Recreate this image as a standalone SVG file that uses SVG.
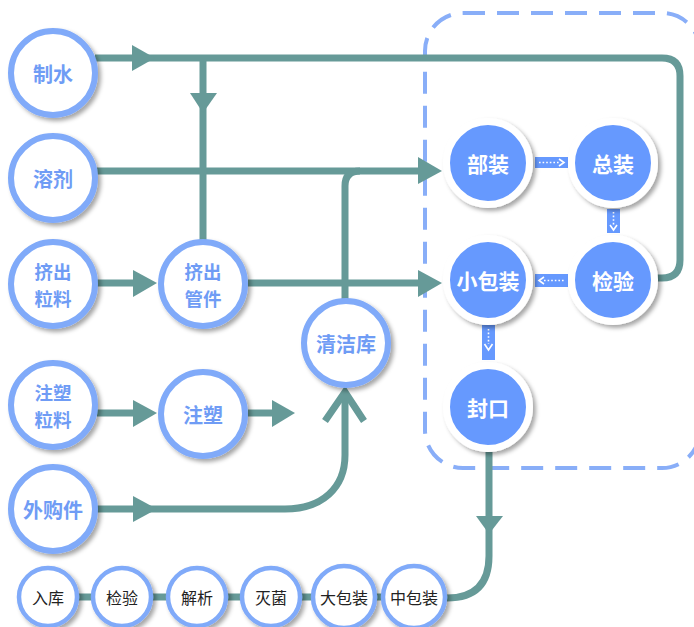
<svg xmlns="http://www.w3.org/2000/svg" width="694" height="627" viewBox="0 0 694 627">
<defs>
<filter id="sh" x="-30%" y="-30%" width="160%" height="160%">
<feDropShadow dx="3" dy="3" stdDeviation="2" flood-color="#000" flood-opacity="0.35"/>
</filter>
<style>
.n{fill:#fff;stroke:#80aaf9;stroke-width:6;filter:url(#sh)}
.ns{fill:#fff;stroke:#80aaf9;stroke-width:4.5;filter:url(#sh)}
.b{fill:#6699fe;stroke:#fff;stroke-width:7;filter:url(#sh)}
.t{font-family:"Noto Sans CJK SC",sans-serif;font-weight:bold;font-size:20px;fill:#6f9cf5;text-anchor:middle;dominant-baseline:central}
.t2{font-size:18.5px}
.tw{font-family:"Noto Sans CJK SC",sans-serif;font-weight:bold;font-size:21px;fill:#fff;text-anchor:middle;dominant-baseline:central}
.ts{font-family:"Noto Sans CJK SC",sans-serif;font-size:16px;fill:#222;text-anchor:middle;dominant-baseline:central}
.l{fill:none;stroke:#669a98;stroke-width:7}
.a{fill:#669a98}
.br{fill:#6699fe}
.d{fill:none;stroke:#fff;stroke-width:1.6;stroke-dasharray:1.6 2}
.c{fill:none;stroke:#fff;stroke-width:1.6}
</style>
</defs>
<rect x="425" y="13" width="275" height="455" rx="38" fill="none" stroke="#89aef8" stroke-width="4" stroke-dasharray="22 12"/>
<g id="connectors">
<path class="l" d="M95 58 H662 Q680 58 680 76 V260 Q680 278 662 278 H655"/>
<path class="l" d="M203 58 V240"/>
<path class="l" d="M97 171 H425"/>
<path class="l" d="M345 300 V186 Q345 171 360 171"/>
<path class="l" d="M248 283 H425"/>
<path class="l" d="M97 283 H140"/>
<path class="l" d="M97 413 H140"/>
<path class="l" d="M248 413 H280"/>
<path class="l" d="M97 509 H285 C322 509 345 488 345 455 V393"/>
<path class="l" stroke-linejoin="miter" d="M325 421 L345 392 L364 421"/>
<path class="l" d="M489 452 V556 Q489 598 447 598"/>
<path class="l" d="M48 597 H414"/>
<polygon class="a" points="132,45 155,58 132,71"/>
<polygon class="a" points="190,93 217,93 203,113"/>
<polygon class="a" points="418,157 442,171 418,184"/>
<polygon class="a" points="418,270 442,283 418,297"/>
<polygon class="a" points="133,270 157,283 133,297"/>
<polygon class="a" points="133,400 157,413 133,427"/>
<polygon class="a" points="272,400 295,413 272,427"/>
<polygon class="a" points="133,496 157,509 133,522"/>
<polygon class="a" points="476,516 503,516 489,534"/>
<rect class="br" x="535" y="157" width="33" height="11"/>
<path class="d" d="M539 162.5 H559"/>
<path class="c" d="M559 159 L564 162.5 L559 166"/>
<rect class="br" x="607" y="209" width="13" height="24"/>
<path class="d" d="M613.5 212 V226"/>
<path class="c" d="M610 225 L613.5 230 L617 225"/>
<rect class="br" x="535" y="274" width="33" height="13"/>
<path class="d" d="M544 280.5 H564"/>
<path class="c" d="M544 277 L539 280.5 L544 284"/>
<rect class="br" x="482" y="325" width="13" height="35"/>
<path class="d" d="M488.5 329 V344"/>
<path class="c" d="M484.5 344 L488.5 350 L492.5 344"/>
</g>
<g id="n-zhishui"><circle class="n" cx="53" cy="73" r="42"/><text class="t" x="53" y="73">制水</text></g>
<g id="n-rongji"><circle class="n" cx="53" cy="178" r="42"/><text class="t" x="53" y="178">溶剂</text></g>
<g id="n-jichuliliao"><circle class="n" cx="53" cy="284" r="42"/><text class="t t2" x="53" y="270.5">挤出</text><text class="t t2" x="53" y="297.5">粒料</text></g>
<g id="n-jichuguanjian"><circle class="n" cx="203" cy="284" r="42"/><text class="t t2" x="203" y="270.5">挤出</text><text class="t t2" x="203" y="297.5">管件</text></g>
<g id="n-qingjieku"><circle class="n" cx="346" cy="343" r="42"/><text class="t" x="346" y="343">清洁库</text></g>
<g id="n-zhusuliliao"><circle class="n" cx="53" cy="405" r="42"/><text class="t t2" x="53" y="391.5">注塑</text><text class="t t2" x="53" y="418.5">粒料</text></g>
<g id="n-zhusu"><circle class="n" cx="203" cy="414" r="42"/><text class="t" x="203" y="414">注塑</text></g>
<g id="n-waigoujian"><circle class="n" cx="53" cy="509" r="42"/><text class="t" x="53" y="509">外购件</text></g>
<g id="n-buzhuang"><circle class="b" cx="488" cy="163" r="41.5"/><text class="tw" x="488" y="163">部装</text></g>
<g id="n-zongzhuang"><circle class="b" cx="613" cy="163" r="41.5"/><text class="tw" x="613" y="163">总装</text></g>
<g id="n-xiaobaozhuang"><circle class="b" cx="488" cy="280" r="41.5"/><text class="tw" x="488" y="280">小包装</text></g>
<g id="n-jianyan"><circle class="b" cx="613" cy="280" r="41.5"/><text class="tw" x="613" y="280">检验</text></g>
<g id="n-fengkou"><circle class="b" cx="488" cy="407" r="41.5"/><text class="tw" x="488" y="407">封口</text></g>
<g id="n-ruku"><circle class="ns" cx="48" cy="597" r="29"/><text class="ts" x="48" y="597">入库</text></g>
<g id="n-jianyan2"><circle class="ns" cx="122" cy="597" r="29"/><text class="ts" x="122" y="597">检验</text></g>
<g id="n-jiexi"><circle class="ns" cx="197" cy="597" r="29"/><text class="ts" x="197" y="597">解析</text></g>
<g id="n-miejun"><circle class="ns" cx="271" cy="597" r="29"/><text class="ts" x="271" y="597">灭菌</text></g>
<g id="n-dabaozhuang"><circle class="ns" cx="344" cy="597" r="31"/><text class="ts" x="344" y="597">大包装</text></g>
<g id="n-zhongbaozhuang"><circle class="ns" cx="414" cy="597" r="31"/><text class="ts" x="414" y="597">中包装</text></g>
</svg>
